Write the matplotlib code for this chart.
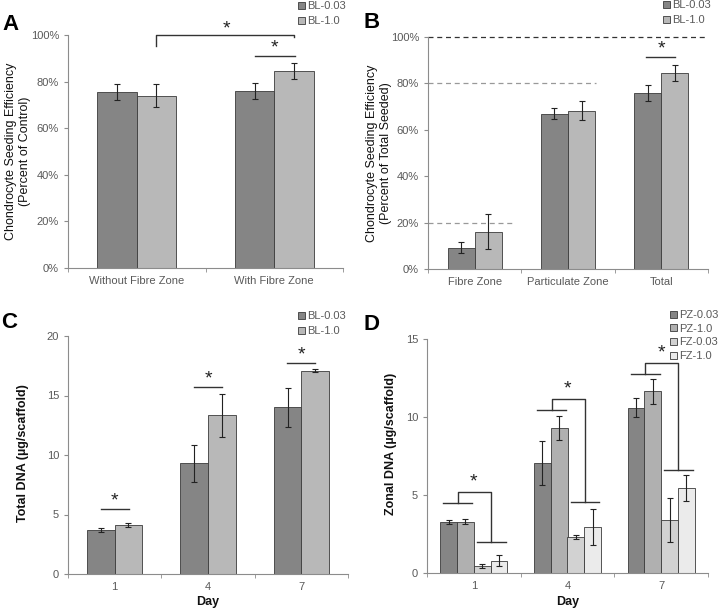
import numpy as np
import matplotlib
matplotlib.use('Agg')
import matplotlib.pyplot as plt
from matplotlib.ticker import PercentFormatter, FixedLocator

plt.rcParams['font.family'] = ['Liberation Sans', 'DejaVu Sans']

# ---- data ----
a_cats = ['Without Fibre Zone', 'With Fibre Zone']
a_bl003 = [75.5, 76.0]
a_bl003_err = [3.5, 3.5]
a_bl10 = [74.0, 84.5]
a_bl10_err = [5.0, 3.5]

b_cats = ['Fibre Zone', 'Particulate Zone', 'Total']
b_bl003 = [9.2, 67.0, 76.0]
b_bl003_err = [2.5, 2.5, 3.5]
b_bl10 = [16.0, 68.3, 84.5]
b_bl10_err = [7.5, 4.0, 3.5]
b_ref_lines = [100, 80, 20]

days = ['1', '4', '7']
c_bl003 = [3.7, 9.3, 14.0]
c_bl003_err = [0.15, 1.55, 1.65]
c_bl10 = [4.1, 13.35, 17.1]
c_bl10_err = [0.15, 1.8, 0.15]
c_sig = [5.45, 15.7, 17.7]

d_labels = ['PZ-0.03', 'PZ-1.0', 'FZ-0.03', 'FZ-1.0']
d_vals = [[3.25, 7.05, 10.6],
          [3.3, 9.3, 11.65],
          [0.45, 2.3, 3.4],
          [0.8, 2.95, 5.45]]
d_errs = [[0.12, 1.4, 0.62],
          [0.18, 0.75, 0.8],
          [0.1, 0.12, 1.4],
          [0.35, 1.15, 0.85]]
d_sig_left = [4.5, 10.45, 12.75]
d_sig_right = [2.0, 4.55, 6.6]
d_sig_top = [5.2, 11.15, 13.45]

DARK = '#858585'
LIGHT = '#b8b8b8'
D_COLORS = ['#858585', '#b0b0b0', '#d2d2d2', '#ebebeb']
EDGE = '#3a3a3a'
AXC = '#8c8c8c'
TXT = '#595959'

W, H = 719, 609
fig = plt.figure(figsize=(W / 100, H / 100), dpi=100)


def px_axes(l, t, r, b):
    return fig.add_axes([l / W, 1 - b / H, (r - l) / W, (b - t) / H])


def style(ax, ncat):
    for s in ['top', 'right']:
        ax.spines[s].set_visible(False)
    for s in ['left', 'bottom']:
        ax.spines[s].set_color(AXC)
        ax.spines[s].set_linewidth(0.8)
    ax.set_xlim(-0.5, ncat - 0.5)
    ax.set_xticks(range(ncat))
    ax.xaxis.set_minor_locator(FixedLocator(np.arange(-0.5, ncat, 1.0)))
    ax.tick_params(axis='x', which='major', length=0, labelsize=8, colors=TXT, pad=6)
    ax.tick_params(axis='x', which='minor', length=3, color=AXC)
    ax.tick_params(axis='y', length=3, color=AXC, labelsize=8, labelcolor=TXT)


def star(ax, x, y):
    ax.text(x, y, '*', ha='center', va='center', fontsize=14, color='#222222', clip_on=False)


def line(ax, xs, ys):
    ax.plot(xs, ys, color='#333333', lw=1.0, clip_on=False)


def legend(ax, x, y, spacing=0.45):
    ax.legend(loc='upper left', bbox_to_anchor=(x / W, 1 - y / H), bbox_transform=fig.transFigure,
              frameon=False, fontsize=8, handlelength=0.6, handleheight=0.6,
              handletextpad=0.25, labelspacing=spacing, borderpad=0, borderaxespad=0,
              labelcolor=TXT)


err_kw = dict(ecolor='#222222', elinewidth=0.8, capsize=2.5, capthick=0.8)

# ---- A ----
ax = px_axes(68, 35, 343, 268)
style(ax, 2)
w = 0.287
x = np.arange(2)
ax.bar(x - w / 2, a_bl003, w, yerr=a_bl003_err, color=DARK, edgecolor=EDGE, lw=0.6, label='BL-0.03', error_kw=err_kw)
ax.bar(x + w / 2, a_bl10, w, yerr=a_bl10_err, color=LIGHT, edgecolor=EDGE, lw=0.6, label='BL-1.0', error_kw=err_kw)
ax.set_ylim(0, 100)
ax.set_yticks(range(0, 101, 20))
ax.yaxis.set_major_formatter(PercentFormatter(decimals=0))
ax.set_xticklabels(a_cats)
ax.set_ylabel('Chondrocyte Seeding Efficiency\n(Percent of Control)', fontsize=9, color='#111111')
ax.yaxis.set_label_coords(-0.135, 0.5)
line(ax, [w / 2, w / 2, 1 + w / 2, 1 + w / 2], [95.3, 100, 100, 99])
star(ax, 0.655, 102.5)
line(ax, [1 - 0.142, 1 + 0.149], [91, 91])
star(ax, 1.0, 94.5)
legend(ax, 298, 1)

# ---- B ----
ax = px_axes(428, 37, 708, 269)
style(ax, 3)
w = 0.29
x = np.arange(3)
ax.bar(x - w / 2, b_bl003, w, yerr=b_bl003_err, color=DARK, edgecolor=EDGE, lw=0.6, label='BL-0.03', error_kw=err_kw)
ax.bar(x + w / 2, b_bl10, w, yerr=b_bl10_err, color=LIGHT, edgecolor=EDGE, lw=0.6, label='BL-1.0', error_kw=err_kw)
ax.set_ylim(0, 100)
ax.set_yticks(range(0, 101, 20))
ax.yaxis.set_major_formatter(PercentFormatter(decimals=0))
ax.set_xticklabels(b_cats)
ax.set_ylabel('Chondrocyte Seeding Efficiency\n(Percent of Total Seeded)', fontsize=9, color='#111111')
ax.yaxis.set_label_coords(-0.128, 0.5)
ax.axhline(b_ref_lines[0], xmin=0, xmax=1, color='#333333', lw=0.9, ls=(0, (4, 3)), clip_on=False)
ax.axhline(b_ref_lines[1], xmin=0, xmax=0.6, color='#999999', lw=0.9, ls=(0, (4, 3)))
ax.axhline(b_ref_lines[2], xmin=0, xmax=0.3, color='#999999', lw=0.9, ls=(0, (4, 3)))
line(ax, [2 - 0.16, 2 + 0.15], [91.4, 91.4])
star(ax, 2.0, 95.0)
legend(ax, 663, 0)

# ---- C ----
ax = px_axes(68, 336, 348, 574)
style(ax, 3)
w = 0.295
ax.bar(x - w / 2, c_bl003, w, yerr=c_bl003_err, color=DARK, edgecolor=EDGE, lw=0.6, label='BL-0.03', error_kw=err_kw)
ax.bar(x + w / 2, c_bl10, w, yerr=c_bl10_err, color=LIGHT, edgecolor=EDGE, lw=0.6, label='BL-1.0', error_kw=err_kw)
ax.set_ylim(0, 20)
ax.set_yticks(range(0, 21, 5))
ax.set_xticklabels(days)
ax.set_xlabel('Day', fontsize=9, fontweight='bold', color='#111111', labelpad=3)
ax.set_ylabel('Total DNA (µg/scaffold)', fontsize=9, fontweight='bold', color='#111111')
ax.yaxis.set_label_coords(-0.14, 0.51)
for i, h in enumerate(c_sig):
    line(ax, [i - 0.15, i + 0.15], [h, h])
    star(ax, i, h + 0.7)
legend(ax, 298, 311)

# ---- D ----
ax = px_axes(427, 339, 708, 573)
style(ax, 3)
w = 0.178
for k in range(4):
    ax.bar(x + (k - 1.5) * w, d_vals[k], w, yerr=d_errs[k], color=D_COLORS[k], edgecolor=EDGE, lw=0.6,
           label=d_labels[k], error_kw=err_kw)
ax.set_ylim(0, 15)
ax.set_yticks(range(0, 16, 5))
ax.set_xticklabels(days)
ax.set_xlabel('Day', fontsize=9, fontweight='bold', color='#111111', labelpad=3)
ax.set_ylabel('Zonal DNA (µg/scaffold)', fontsize=9, fontweight='bold', color='#111111')
ax.yaxis.set_label_coords(-0.105, 0.55)
for i in range(3):
    yl, yr, yt = d_sig_left[i], d_sig_right[i], d_sig_top[i]
    line(ax, [i - 0.325, i - 0.015], [yl, yl])
    line(ax, [i + 0.035, i + 0.34], [yr, yr])
    line(ax, [i - 0.17, i - 0.17, i + 0.185, i + 0.185], [yl, yt, yt, yr])
    star(ax, i, yt + 0.65)
legend(ax, 670, 310, spacing=0.33)

# panel letters
for lab, px, py in [('A', 2, 30), ('B', 364, 28), ('C', 1, 328), ('D', 364, 330)]:
    fig.text(px / W, 1 - py / H, lab, fontsize=16, fontweight='bold', va='baseline', ha='left')

fig.savefig('out.png', dpi=100)
